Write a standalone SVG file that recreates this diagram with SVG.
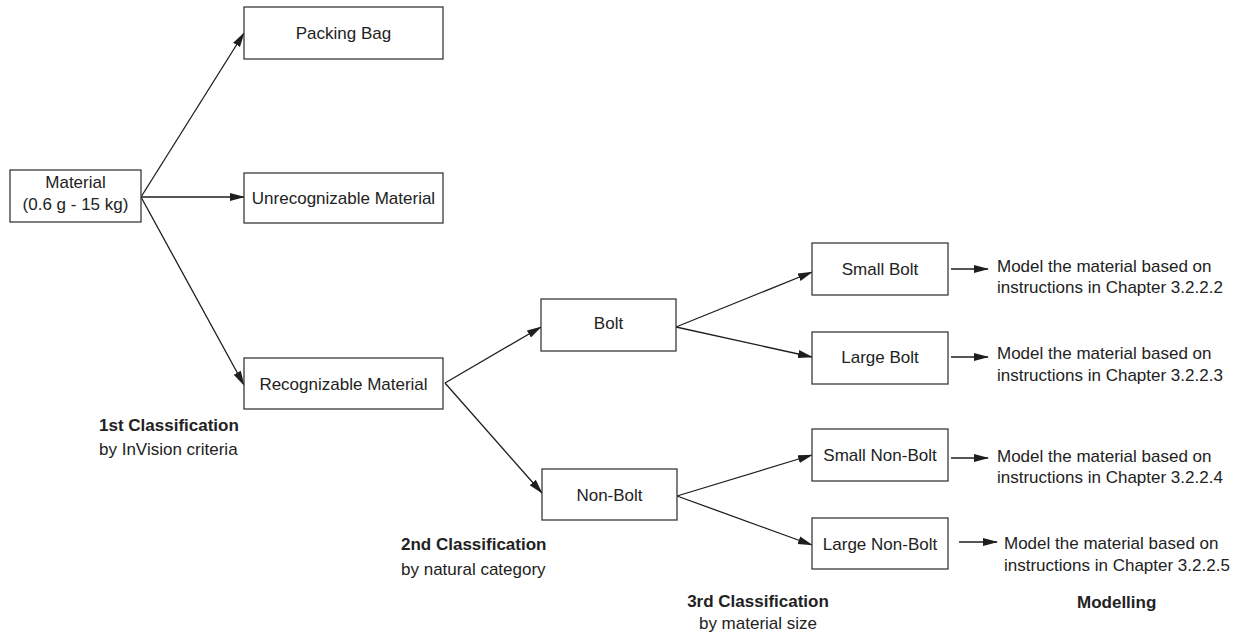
<svg xmlns="http://www.w3.org/2000/svg" width="1257" height="637" viewBox="0 0 1257 637">
  <style>
    .box { fill: #ffffff; stroke: #3a3a3a; stroke-width: 1.3; }
    .lbl { font-family: "Liberation Sans", Arial, sans-serif; font-size: 17px; fill: #222; }
    .c { text-anchor: middle; }
    .b { font-weight: bold; }
    .edge { fill: none; stroke: #1e1e1e; stroke-width: 1.3; marker-end: url(#arrow); }
  </style>
  <defs>
    <marker id="arrow" markerUnits="userSpaceOnUse" markerWidth="15" markerHeight="10" viewBox="0 0 15 10" refX="14" refY="5" orient="auto">
      <path d="M0,1 L15,5 L0,9 Z" fill="#1e1e1e"/>
    </marker>
  </defs>
  <rect width="1257" height="637" fill="#ffffff"/>

  <!-- connectors -->
  <g id="connectors">
    <line class="edge" x1="141" y1="197" x2="244" y2="33"/>
    <line class="edge" x1="141" y1="197" x2="244" y2="197"/>
    <line class="edge" x1="141" y1="197" x2="244" y2="385"/>
    <line class="edge" x1="445" y1="383" x2="541" y2="327"/>
    <line class="edge" x1="445" y1="383" x2="542" y2="493"/>
    <line class="edge" x1="676" y1="327" x2="812" y2="272"/>
    <line class="edge" x1="676" y1="327" x2="812" y2="357"/>
    <line class="edge" x1="677" y1="496" x2="812" y2="455"/>
    <line class="edge" x1="677" y1="496" x2="812" y2="545"/>
    <line class="edge" x1="951" y1="269" x2="988" y2="269"/>
    <line class="edge" x1="951" y1="357" x2="988" y2="357"/>
    <line class="edge" x1="951" y1="458" x2="988" y2="458"/>
    <line class="edge" x1="959" y1="542" x2="997" y2="542"/>
  </g>

  <!-- nodes -->
  <g id="material">
    <rect class="box" x="10" y="170" width="131" height="52"/>
    <text class="lbl c" x="75.5" y="188">Material</text>
    <text class="lbl c" x="75.5" y="210">(0.6 g - 15 kg)</text>
  </g>
  <g id="packing-bag">
    <rect class="box" x="244" y="7" width="199" height="52"/>
    <text class="lbl c" x="343.5" y="39">Packing Bag</text>
  </g>
  <g id="unrecognizable">
    <rect class="box" x="244" y="173" width="199" height="50"/>
    <text class="lbl c" x="343.5" y="204">Unrecognizable Material</text>
  </g>
  <g id="recognizable">
    <rect class="box" x="244" y="358" width="199" height="51"/>
    <text class="lbl c" x="343.5" y="390">Recognizable Material</text>
  </g>
  <g id="bolt">
    <rect class="box" x="541" y="299" width="135" height="52"/>
    <text class="lbl c" x="608.5" y="329">Bolt</text>
  </g>
  <g id="non-bolt">
    <rect class="box" x="542" y="469" width="135" height="51"/>
    <text class="lbl c" x="609.5" y="501">Non-Bolt</text>
  </g>
  <g id="small-bolt">
    <rect class="box" x="812" y="243" width="136" height="52"/>
    <text class="lbl c" x="880" y="275">Small Bolt</text>
  </g>
  <g id="large-bolt">
    <rect class="box" x="812" y="332" width="136" height="52"/>
    <text class="lbl c" x="880" y="363">Large Bolt</text>
  </g>
  <g id="small-non-bolt">
    <rect class="box" x="812" y="429" width="136" height="52"/>
    <text class="lbl c" x="880" y="461">Small Non-Bolt</text>
  </g>
  <g id="large-non-bolt">
    <rect class="box" x="812" y="518" width="136" height="51"/>
    <text class="lbl c" x="880" y="550">Large Non-Bolt</text>
  </g>

  <!-- modelling notes -->
  <g id="model-1">
    <text class="lbl" x="997" y="272">Model the material based on</text>
    <text class="lbl" x="997" y="293">instructions in Chapter 3.2.2.2</text>
  </g>
  <g id="model-2">
    <text class="lbl" x="997" y="359">Model the material based on</text>
    <text class="lbl" x="997" y="381">instructions in Chapter 3.2.2.3</text>
  </g>
  <g id="model-3">
    <text class="lbl" x="997" y="462">Model the material based on</text>
    <text class="lbl" x="997" y="483">instructions in Chapter 3.2.2.4</text>
  </g>
  <g id="model-4">
    <text class="lbl" x="1004" y="549">Model the material based on</text>
    <text class="lbl" x="1004" y="571">instructions in Chapter 3.2.2.5</text>
  </g>

  <!-- stage captions -->
  <g id="caption-1">
    <text class="lbl b" x="99" y="431">1st Classification</text>
    <text class="lbl" x="99" y="455">by InVision criteria</text>
  </g>
  <g id="caption-2">
    <text class="lbl b" x="401" y="550">2nd Classification</text>
    <text class="lbl" x="401" y="575">by natural category</text>
  </g>
  <g id="caption-3">
    <text class="lbl b c" x="758" y="607">3rd Classification</text>
    <text class="lbl c" x="758" y="629">by material size</text>
  </g>
  <g id="caption-4">
    <text class="lbl b" x="1077" y="608">Modelling</text>
  </g>
</svg>
